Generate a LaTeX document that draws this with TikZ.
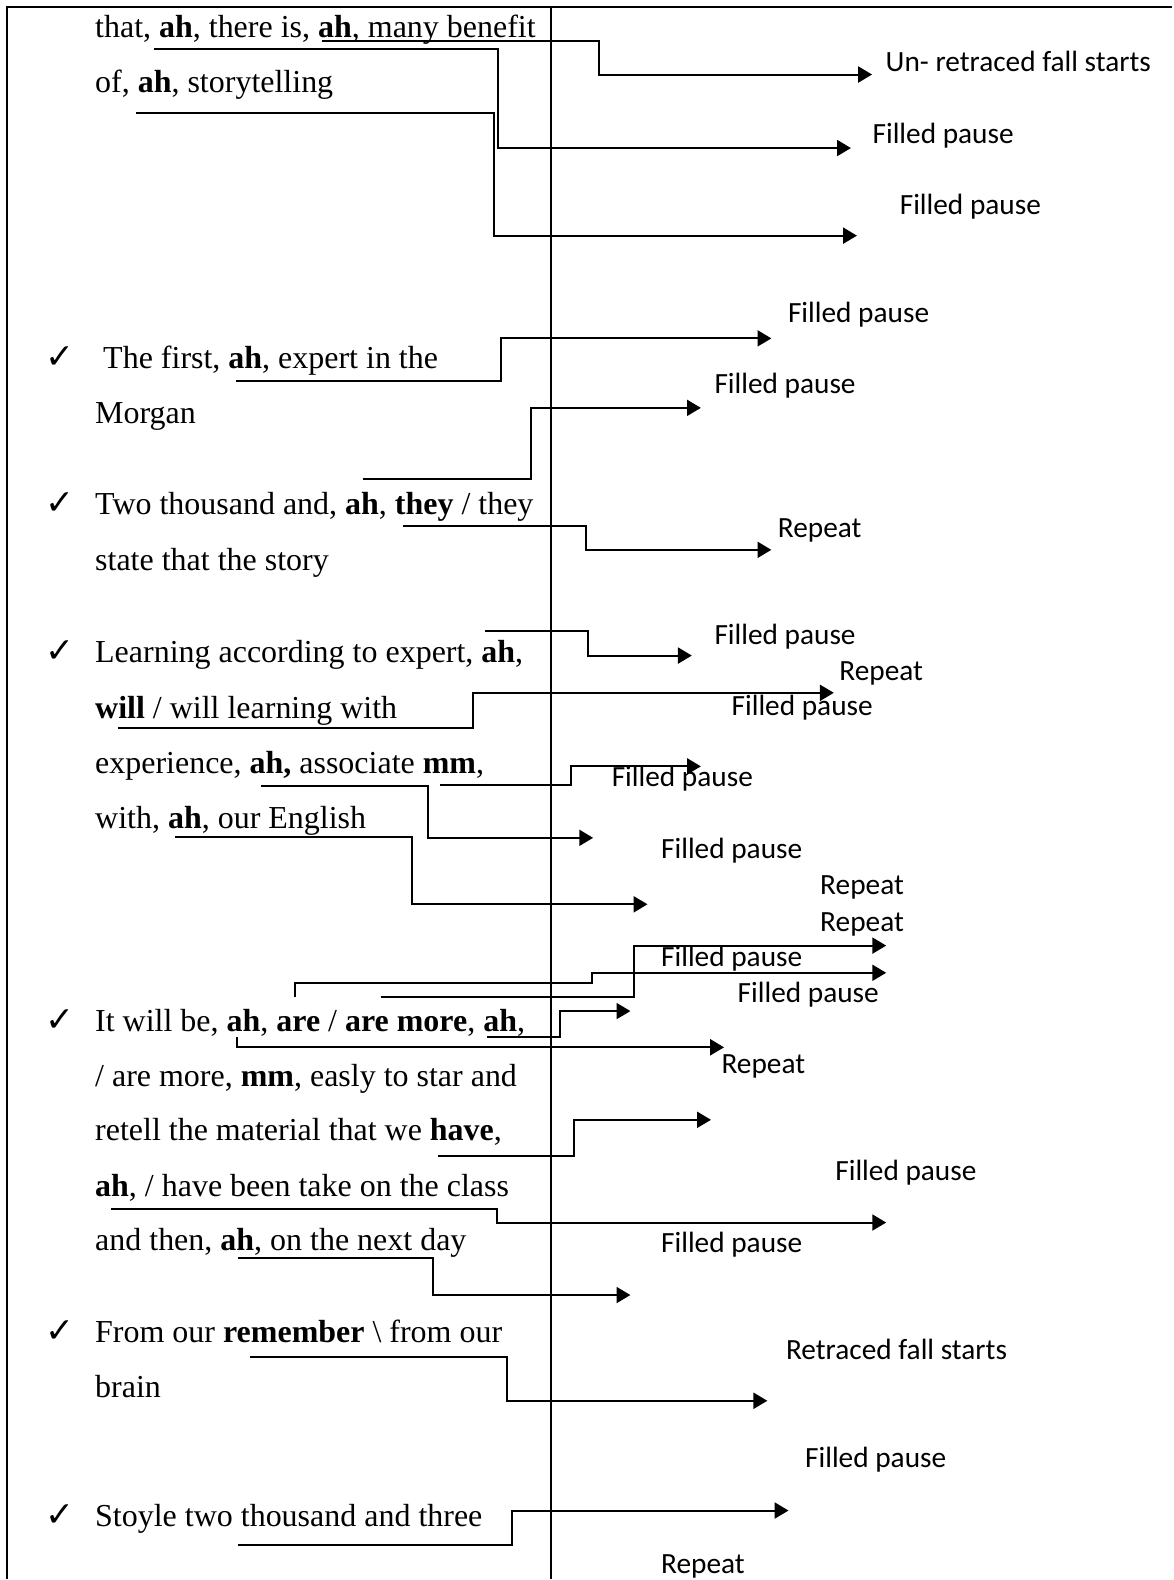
\documentclass[tikz,border=0pt]{standalone}
\usepackage{fontspec}
\setmainfont{Liberation Serif}
\newfontfamily\labelfont{Carlito}
\newfontfamily\symfont{DejaVu Sans}
\usetikzlibrary{arrows.meta}
\begin{document}
\begin{tikzpicture}[x=0.3779pt,y=-0.3779pt,
  txt/.style={anchor=base west,inner sep=0pt,font=\fontsize{12}{14}\selectfont},
  lbl/.style={anchor=base west,inner sep=0pt,font=\labelfont\fontsize{11}{13}\selectfont},
  tickmark/.style={anchor=base,inner sep=0pt,font=\symfont\fontsize{13}{15}\selectfont},
  frame/.style={line width=0.75pt},
  divider/.style={line width=0.6pt},
  conn/.style={line width=0.75pt,-{Triangle[length=5.2pt,width=6pt]}}
]
% page
\fill[white] (0,0) rectangle (1164,1568);
% table rules
\draw[frame] (7,1568) -- (7,7) -- (1164,7);
\draw[divider] (547,7) -- (547,1568);

% transcript lines
\node[txt] (t01) at (94,37) {that, \textbf{ah}, there is, \textbf{ah}, many benefit};
\node[txt] (t02) at (94,92) {of, \textbf{ah}, storytelling};
\node[tickmark] (c1) at (60,366) {✓};
\node[txt] (t03) at (102,366) {The first, \textbf{ah}, expert in the};
\node[txt] (t04) at (94,421) {Morgan};
\node[tickmark] (c2) at (60,511) {✓};
\node[txt] (t05) at (94,511) {Two thousand and, \textbf{ah}, \textbf{they} / they};
\node[txt] (t06) at (94,567) {state that the story};
\node[tickmark] (c3) at (60,658) {✓};
\node[txt] (t07) at (94,658) {Learning according to expert, \textbf{ah},};
\node[txt] (t08) at (94,713) {\textbf{will} / will learning with};
\node[txt] (t09) at (94,768) {experience, \textbf{ah,} associate \textbf{mm},};
\node[txt] (t10) at (94,823) {with, \textbf{ah}, our English};
\node[tickmark] (c4) at (60,1024) {✓};
\node[txt] (t11) at (94,1024) {It will be, \textbf{ah}, \textbf{are} / \textbf{are more}, \textbf{ah},};
\node[txt] (t12) at (94,1079) {/ are more, \textbf{mm}, easly to star and};
\node[txt] (t13) at (94,1133) {retell the material that we \textbf{have},};
\node[txt] (t14) at (94,1188) {\textbf{ah}, / have been take on the class};
\node[txt] (t15) at (94,1242) {and then, \textbf{ah}, on the next day};
\node[tickmark] (c5) at (60,1333) {✓};
\node[txt] (t16) at (94,1333) {From our \textbf{remember} \textbackslash{} from our};
\node[txt] (t17) at (94,1388) {brain};
\node[tickmark] (c6) at (60,1516) {✓};
\node[txt] (t18) at (94,1516) {Stoyle two thousand and three};

% category labels
\node[lbl] (p01) at (879,70.5) {Un- retraced fall starts};
\node[lbl] (p02) at (866,142.5) {Filled pause};
\node[lbl] (p03) at (893,212.5) {Filled pause};
\node[lbl] (p04) at (782,320.5) {Filled pause};
\node[lbl] (p05) at (709,390.5) {Filled pause};
\node[lbl] (p06) at (772,533.5) {Repeat};
\node[lbl] (p07) at (709,639.5) {Filled pause};
\node[lbl] (p08) at (833,675.5) {Repeat};
\node[lbl] (p09) at (726,710.5) {Filled pause};
\node[lbl] (p10) at (607,781.5) {Filled pause};
\node[lbl] (p11) at (656,852.5) {Filled pause};
\node[lbl] (p12) at (814,888.5) {Repeat};
\node[lbl] (p13) at (814,924.5) {Repeat};
\node[lbl] (p14) at (656,959.5) {Filled pause};
\node[lbl] (p15) at (732,995.5) {Filled pause};
\node[lbl] (p16) at (716,1066.5) {Repeat};
\node[lbl] (p17) at (829,1172.5) {Filled pause};
\node[lbl] (p18) at (656,1243.5) {Filled pause};
\node[lbl] (p19) at (780,1350.5) {Retraced fall starts};
\node[lbl] (p20) at (799,1457.5) {Filled pause};
\node[lbl] (p21) at (656,1562.5) {Repeat};

% connector ends
\coordinate (sA) at (320,41);   \coordinate (bA) at (595,74);   \coordinate (eA) at (866,74);
\coordinate (sB) at (153,49);   \coordinate (bB) at (495,147);  \coordinate (eB) at (845,147);
\coordinate (sC) at (135,112);  \coordinate (bC) at (491,234);  \coordinate (eC) at (851,234);
\coordinate (sD) at (234,378);  \coordinate (bD) at (498,336);  \coordinate (eD) at (766,336);
\coordinate (sE) at (360,476);  \coordinate (bE) at (527,405);  \coordinate (eE) at (696,405);
\coordinate (sF) at (400,522);  \coordinate (bF) at (582,546);  \coordinate (eF) at (766,546);
\coordinate (sG) at (482,627);  \coordinate (bG) at (584,651);  \coordinate (eG) at (687,651);
\coordinate (sH) at (117,723);  \coordinate (bH) at (470,688);  \coordinate (eH) at (828,688);
\coordinate (sI) at (259,781);  \coordinate (bI) at (425,832);  \coordinate (eI) at (589,832);
\coordinate (sJ) at (437,780);  \coordinate (bJ) at (567,761);  \coordinate (eJ) at (696,761);
\coordinate (sK) at (174,831);  \coordinate (bK) at (409,898);  \coordinate (eK) at (643,898);
\coordinate (sL) at (293,990);  \coordinate (mL) at (588,976);  \coordinate (eL) at (880,966);
\coordinate (sM) at (378,990);  \coordinate (bM) at (630,939);  \coordinate (eM) at (880,939);
\coordinate (sN) at (484,1030); \coordinate (bN) at (556,1004); \coordinate (eN) at (626,1004);
\coordinate (sO) at (235,1030); \coordinate (eO) at (719,1040);
\coordinate (sP) at (435,1148); \coordinate (bP) at (570,1112); \coordinate (eP) at (706,1112);
\coordinate (sQ) at (110,1201); \coordinate (bQ) at (494,1214); \coordinate (eQ) at (880,1214);
\coordinate (sR) at (236,1249); \coordinate (bR) at (430,1286); \coordinate (eR) at (626,1286);
\coordinate (sS) at (248,1348); \coordinate (bS) at (503,1391); \coordinate (eS) at (762,1391);
\coordinate (sT) at (236,1534); \coordinate (bT) at (508,1500); \coordinate (eT) at (783,1500);

% stepped connectors
\foreach \k in {A,B,C,D,E,F,G,H,I,J,K,M,N,P,Q,R,S,T}
  \draw[conn] (s\k) -| (b\k) -- (e\k);
\draw[conn] (sL) |- (mL) |- (eL);
\draw[conn] (sO) |- (eO);
\end{tikzpicture}
\end{document}
